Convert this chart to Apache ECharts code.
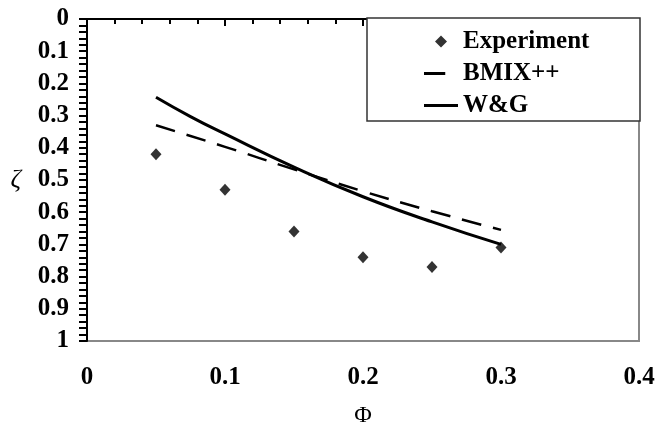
<!DOCTYPE html>
<html>
<head>
<meta charset="utf-8">
<script src="https://cdn.jsdelivr.net/npm/echarts@6/dist/echarts.min.js"></script>
<style>
  html, body { margin: 0; padding: 0; background: #fff; }
  #chart { width: 657px; height: 424px; }
</style>
</head>
<body>
<div id="chart"></div>
<script>
	// values (zeta axis runs downward)
	var phiPoints = [0.05, 0.10, 0.15, 0.20, 0.25, 0.30];
	var experiment = [0.42, 0.53, 0.66, 0.74, 0.77, 0.71];
	var bmix = [0.33, 0.397, 0.467, 0.535, 0.597, 0.655];
	var wgPhi = [0.05, 0.075, 0.10, 0.15, 0.20, 0.25, 0.30];
	var wg = [0.243, 0.303, 0.357, 0.46, 0.552, 0.63, 0.70];

	function pairs(xs, ys) {
		var out = [];
		for (var i = 0; i < xs.length; i++) {
			out.push([xs[i], ys[i]]);
		}
		return out;
	}

	var serif = '"Liberation Serif", "Times New Roman", serif';
	var chart = echarts.init(document.getElementById('chart'));

	chart.setOption({
		animation: false,
		grid: {
			left: 87, right: 18, top: 19, bottom: 83,
			outerBoundsMode: 'none',
			containLabel: false,
			show: true,
			borderColor: '#888',
			borderWidth: 2
		},
		graphic: [{
			type: 'rect',
			z: 3,
			shape: { x: 367, y: 18, width: 273, height: 103 },
			style: { fill: '#fff', stroke: '#333', lineWidth: 1.5 }
		}],
		legend: {
			z: 5,
			orient: 'vertical',
			left: 419,
			top: 24,
			itemWidth: 34,
			itemHeight: 12,
			itemGap: 7,
			itemStyle: { color: '#000', borderWidth: 0 },
			textStyle: { fontFamily: serif, fontWeight: 'bold', fontSize: 25, color: '#000' },
			data: [
				// icons padded out to 32 wide so all three line up
				{ name: 'Experiment', icon: 'path://M16,0L22,6L16,12L10,6Z M0,6L0,6Z M32,6L32,6Z' },
				{ name: 'BMIX++', icon: 'path://M0,0L20,0L20,3L0,3Z M32,0L32,3Z' },
				{ name: 'W&G', icon: 'path://M0,0L32,0L32,3L0,3Z' }
			]
		},
		xAxis: {
			type: 'value',
			min: 0, max: 0.4, interval: 0.1,
			name: 'Φ',
			nameLocation: 'middle',
			nameGap: 63,
			nameTextStyle: { fontFamily: serif, fontSize: 24, color: '#000' },
			splitLine: { show: false },
			axisLine: { lineStyle: { color: '#000', width: 2 } },
			axisTick: { length: 7, lineStyle: { color: '#000', width: 2 } },
			minorTick: { show: true, splitNumber: 5, length: 5, lineStyle: { color: '#000', width: 2 } },
			axisLabel: {
				margin: 24,
				fontFamily: serif, fontWeight: 'bold', fontSize: 25, color: '#000',
				formatter: function (v) { return v === 0 ? '0' : v.toFixed(1); }
			}
		},
		yAxis: {
			type: 'value',
			inverse: true,
			min: 0, max: 1, interval: 0.1,
			name: 'ζ',
			nameLocation: 'middle',
			nameRotate: 0,
			nameGap: 66,
			nameTextStyle: { fontFamily: serif, fontStyle: 'italic', fontSize: 26, color: '#000' },
			splitLine: { show: false },
			axisLine: { show: true, lineStyle: { color: '#000', width: 2 } },
			axisTick: { show: true, length: 8, lineStyle: { color: '#000', width: 2 } },
			minorTick: { show: true, splitNumber: 5, length: 8, lineStyle: { color: '#000', width: 2 } },
			axisLabel: {
				margin: 18,
				fontFamily: serif, fontWeight: 'bold', fontSize: 25, color: '#000',
				formatter: function (v) { return (v === 0 || v === 1) ? String(v) : v.toFixed(1); }
			}
		},
		series: [{
			name: 'Experiment',
			type: 'scatter',
			symbol: 'diamond',
			symbolSize: [11, 12],
			itemStyle: { color: '#000' },
			data: pairs(phiPoints, experiment)
		}, {
			name: 'BMIX++',
			type: 'line',
			showSymbol: false,
			symbol: 'none',
			smooth: true,
			lineStyle: { color: '#000', width: 2.5, type: [20, 12] },
			itemStyle: { color: '#000' },
			data: pairs(phiPoints, bmix)
		}, {
			name: 'W&G',
			type: 'line',
			showSymbol: false,
			symbol: 'none',
			smooth: true,
			lineStyle: { color: '#000', width: 3 },
			itemStyle: { color: '#000' },
			data: pairs(wgPhi, wg)
		}]
	});
</script>
</body>
</html>
